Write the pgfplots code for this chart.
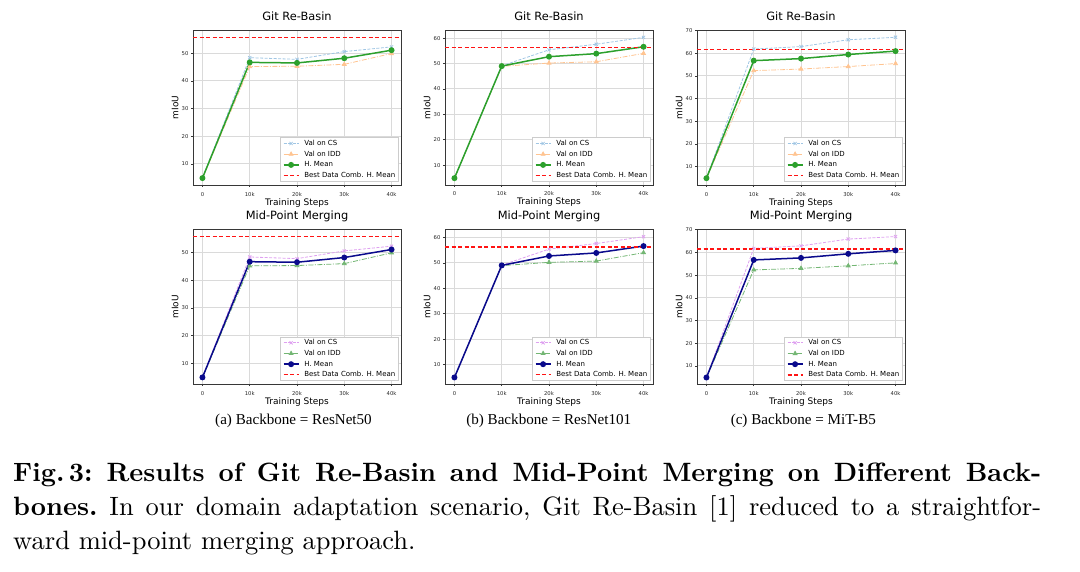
\documentclass[border=0pt]{standalone}
\usepackage{pgfplots}
\pgfplotsset{compat=1.18}
\usepackage{pgfplotstable}
\usepackage{fontspec}
\setmainfont{lmroman10-regular.otf}[BoldFont=lmroman10-bold.otf, ItalicFont=lmroman10-italic.otf]
\newfontfamily\dejavu{DejaVu Sans}
\newfontfamily\timesfont{Liberation Serif}

\definecolor{csblue}{RGB}{160,198,228}
\definecolor{iddorange}{RGB}{255,196,145}
\definecolor{hgreen}{RGB}{44,160,44}
\definecolor{csviolet}{RGB}{222,160,240}
\definecolor{iddgreen}{RGB}{115,182,115}
\definecolor{hnavy}{RGB}{10,10,140}
\definecolor{gridgray}{RGB}{218,218,218}
\definecolor{spine}{RGB}{55,55,55}
\definecolor{bestred}{RGB}{255,20,20}
\definecolor{legframe}{RGB}{204,204,204}

% step, Val on CS, Val on IDD, H. Mean
\pgfplotstableread{
step cs idd hm
0 5.0 4.8 4.9
10000 48.4 45.2 46.7
20000 47.8 45.3 46.5
30000 50.6 46.0 48.2
40000 52.3 49.9 51.1
}\dataA
\pgfplotstableread{
step cs idd hm
0 4.9 4.8 4.9
10000 49.1 48.9 49.0
20000 55.4 50.2 52.7
30000 57.6 50.7 53.9
40000 60.3 54.0 56.6
}\dataB
\pgfplotstableread{
step cs idd hm
0 5.0 4.8 4.9
10000 61.8 52.3 56.7
20000 62.9 53.0 57.6
30000 65.9 54.1 59.4
40000 67.0 55.4 60.9
}\dataC

\pgfplotsset{
 panel/.style={
  anchor=north west, scale only axis, width=208pt, height=155pt,
  xmin=-2000, xmax=42000,
  xtick={0,10000,20000,30000,40000},
  xticklabels={0,10k,20k,30k,40k},
  scaled x ticks=false,
  axis line style={spine, line width=0.8pt},
  grid=major, major grid style={gridgray, line width=1pt},
  tick align=outside, major tick length=1.8pt,
  tick style={spine, line width=0.6pt},
  xtick pos=bottom, ytick pos=left,
  /pgf/number format/assume math mode=true,
  tick label style={font=\dejavu\fontsize{5.3}{6}\selectfont, text=black!85},
  xticklabel style={anchor=base, inner sep=0pt, yshift=-9.2pt},
  yticklabel style={anchor=east, inner sep=0pt, xshift=-2.6pt},
  title style={at={([yshift=3.5pt]axis description cs:0.5,1)}, anchor=base, inner sep=0pt, font=\dejavu\fontsize{11.4}{13}\selectfont},
  xlabel={Training Steps}, ylabel={mIoU},
  xlabel style={at={([yshift=-20pt]axis description cs:0.5,0)}, anchor=base, inner sep=0pt, font=\dejavu\fontsize{9}{10}\selectfont},
  ylabel style={at={([xshift=-14.7pt]axis description cs:0,0.5)}, anchor=base, inner sep=0pt, font=\dejavu\fontsize{9}{10}\selectfont},
  legend style={at={(0.987,0.021)}, anchor=south east,
    font=\dejavu\fontsize{7}{8}\selectfont,
    draw=legframe, line width=0.6pt,
    fill=white,
    inner xsep=2.7pt, inner ysep=0.5pt,
    column sep=5pt,
    nodes={inner xsep=0pt, inner ysep=2pt, text height=5.2pt, text depth=1.5pt}},
  legend cell align=left,
  legend image code/.code={\draw[mark repeat=2, mark phase=2, #1] plot coordinates {(0pt,0pt) (7.5pt,0pt) (15pt,0pt)};},
 },
 csA/.style={csblue, line width=0.8pt, dash pattern=on 3pt off 1.5pt, mark=x, mark size=2.2pt, mark options={solid}},
 iddA/.style={iddorange, line width=0.8pt, dash pattern=on 5pt off 1.5pt on 1pt off 1.5pt, mark=triangle*, mark size=2.2pt, mark options={solid}},
 hmA/.style={hgreen, line width=1.5pt, mark=*, mark size=2.2pt},
 csB/.style={csviolet, line width=0.8pt, dash pattern=on 3pt off 1.5pt, mark=x, mark size=2.2pt, mark options={solid}},
 iddB/.style={iddgreen, line width=0.8pt, dash pattern=on 5pt off 1.5pt on 1pt off 1.5pt, mark=triangle*, mark size=2.2pt, mark options={solid}},
 hmB/.style={hnavy, line width=1.5pt, mark=*, mark size=2.2pt},
 bestline/.style={draw=bestred, color=bestred, line width=1.2pt, dash pattern=on 4pt off 2.5pt, no markers},
}

\begin{document}
\begin{tikzpicture}
\path[use as bounding box] (0pt,0pt) rectangle (1080pt,-571pt);

% ---------- Row 1: Git Re-Basin ----------
\begin{axis}[panel, at={(193pt,-30pt)}, title={Git Re-Basin}, ymin=2.4, ymax=58.4, ytick={10,20,30,40,50}]
\addplot[csA] table[x=step,y=cs]{\dataA};
\addplot[iddA] table[x=step,y=idd]{\dataA};
\addplot[hmA] table[x=step,y=hm]{\dataA};
\addplot[bestline] coordinates {(-2000,55.8) (42000,55.8)};
\legend{Val on CS, Val on IDD, H. Mean, Best Data Comb. H. Mean}
\end{axis}

\begin{axis}[panel, at={(445pt,-30pt)}, title={Git Re-Basin}, ymin=2.2, ymax=63.2, ytick={10,20,30,40,50,60}]
\addplot[csA] table[x=step,y=cs]{\dataB};
\addplot[iddA] table[x=step,y=idd]{\dataB};
\addplot[hmA] table[x=step,y=hm]{\dataB};
\addplot[bestline] coordinates {(-2000,56.2) (42000,56.2)};
\legend{Val on CS, Val on IDD, H. Mean, Best Data Comb. H. Mean}
\end{axis}

\begin{axis}[panel, at={(697pt,-30pt)}, title={Git Re-Basin}, ymin=1.9, ymax=70.2, ytick={10,20,30,40,50,60,70}]
\addplot[csA] table[x=step,y=cs]{\dataC};
\addplot[iddA] table[x=step,y=idd]{\dataC};
\addplot[hmA] table[x=step,y=hm]{\dataC};
\addplot[bestline] coordinates {(-2000,61.5) (42000,61.5)};
\legend{Val on CS, Val on IDD, H. Mean, Best Data Comb. H. Mean}
\end{axis}

% ---------- Row 2: Mid-Point Merging ----------
\begin{axis}[panel, at={(193pt,-229.3pt)}, title={Mid-Point Merging}, ymin=2.4, ymax=58.4, ytick={10,20,30,40,50}]
\addplot[csB] table[x=step,y=cs]{\dataA};
\addplot[iddB] table[x=step,y=idd]{\dataA};
\addplot[hmB] table[x=step,y=hm]{\dataA};
\addplot[bestline] coordinates {(-2000,55.8) (42000,55.8)};
\legend{Val on CS, Val on IDD, H. Mean, Best Data Comb. H. Mean}
\end{axis}

\begin{axis}[panel, at={(445pt,-229.3pt)}, title={Mid-Point Merging}, ymin=2.2, ymax=63.2, ytick={10,20,30,40,50,60}]
\addplot[csB] table[x=step,y=cs]{\dataB};
\addplot[iddB] table[x=step,y=idd]{\dataB};
\addplot[hmB] table[x=step,y=hm]{\dataB};
\addplot[bestline] coordinates {(-2000,56.2) (42000,56.2)};
\legend{Val on CS, Val on IDD, H. Mean, Best Data Comb. H. Mean}
\end{axis}

\begin{axis}[panel, at={(697pt,-229.3pt)}, title={Mid-Point Merging}, ymin=1.9, ymax=70.2, ytick={10,20,30,40,50,60,70}]
\addplot[csB] table[x=step,y=cs]{\dataC};
\addplot[iddB] table[x=step,y=idd]{\dataC};
\addplot[hmB] table[x=step,y=hm]{\dataC};
\addplot[bestline] coordinates {(-2000,61.5) (42000,61.5)};
\legend{Val on CS, Val on IDD, H. Mean, Best Data Comb. H. Mean}
\end{axis}

% ---------- Sub-captions ----------
\begin{scope}[every node/.style={anchor=base, inner sep=0pt, font=\timesfont\fontsize{15.1}{17}\selectfont}]
\node at (293.5pt,-424pt) {(a) Backbone = ResNet50};
\node at (548.8pt,-424pt) {(b) Backbone = ResNet101};
\node at (803.3pt,-424pt) {(c) Backbone = MiT-B5};
\end{scope}

% ---------- Caption ----------
\begin{scope}[every node/.style={anchor=base west, inner sep=0pt, font=\fontsize{26.5}{34}\selectfont\frenchspacing}]
\node at (13pt,-481pt) {\makebox[1028pt][s]{\textbf{Fig.\,3: Results of Git Re-Basin and Mid-Point Merging on Different Back-}}};
\node at (13pt,-515pt) {\makebox[1028pt][s]{\textbf{bones.} In our domain adaptation scenario, Git Re-Basin [1] reduced to a straightfor-}};
\node at (13pt,-549pt) {ward mid-point merging approach.};
\end{scope}
\end{tikzpicture}
\end{document}
